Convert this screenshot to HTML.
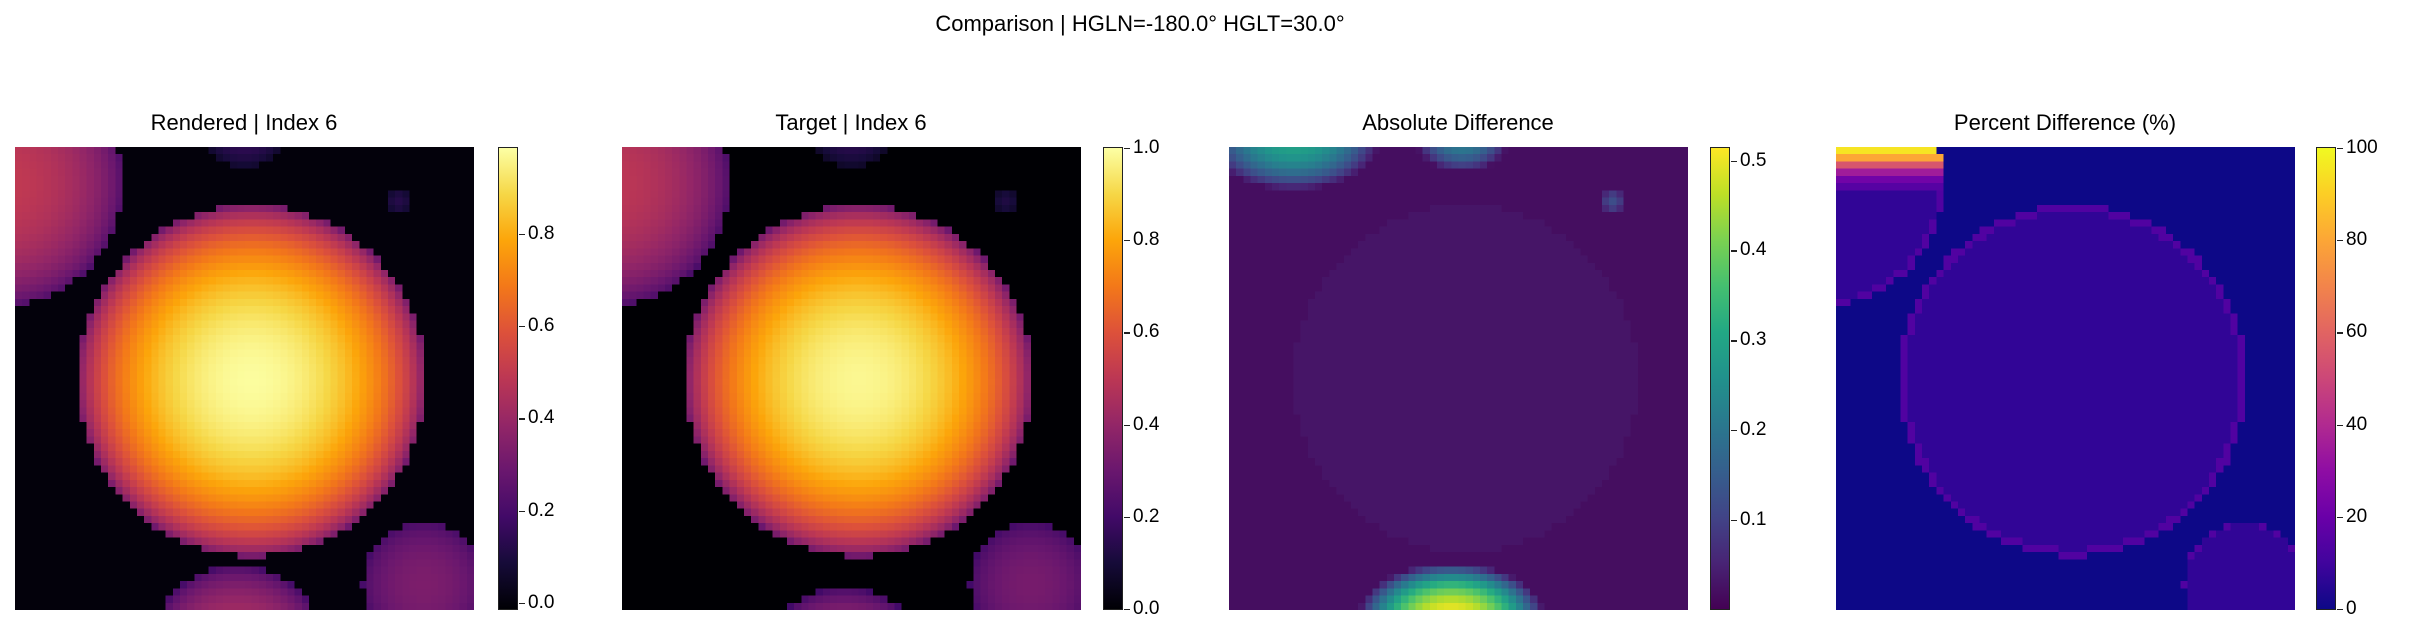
<!DOCTYPE html>
<html><head><meta charset="utf-8"><style>
body{margin:0;background:#fff;width:2409px;height:638px;position:relative;overflow:hidden;font-family:"Liberation Sans","DejaVu Sans",sans-serif;color:#000}
.t{position:absolute;font-size:22px;white-space:nowrap;transform:translateX(-50%)}
canvas.img{position:absolute;top:147px;width:459px;height:463px;image-rendering:pixelated}
.cb{position:absolute;top:147px;width:18px;height:461px;border:1.3px solid #222}
.tk{position:absolute;height:1.3px;width:6px;background:#222}
.tl{position:absolute;font-size:19px;transform:translateY(-50%)}
</style></head><body>
<div class="t" style="left:1140px;top:11px">Comparison | HGLN=-180.0° HGLT=30.0°</div>
<div id="root"></div>
<script>
// Disk model (grid units, 64x64): cx, cy, radius, peak, edge value
const diskCx=[33,-2,57,31,32,53.5];
const diskCy=[32.3,5,60.5,70.5,-3,7.5];
const diskR=[24.3,17,8.5,12.5,6,1.6];
const diskPeak=[0.98,0.5,0.33,0.47,0.16,0.12];
const diskEdge=[0.3,0.22,0.2,0.2,0.05,0.06];
// Absolute-difference features: cx, cy, rx, ry, peak
const absCx=[9,32.5,53.5,31,33];
const absCy=[-1,-1,7.5,65,32];
const absRx=[12,6.5,1.8,13,24];
const absRy=[7,4.5,1.8,7.5,24];
const absPeak=[0.3,0.22,0.12,0.51,0.01];
// Percent features
const pctInside=7;
const pctEdgeHigh=[95,80,55,35,22,15];
// Colorbar ranges and ticks
const cbMin=[-0.013,0,0.001,0];
const cbMax=[0.986,1,0.514,100];
const cbTicks=[[0,0.2,0.4,0.6,0.8],[0,0.2,0.4,0.6,0.8,1.0],[0.1,0.2,0.3,0.4,0.5],[0,20,40,60,80,100]];
const cbLabels=[["0.0","0.2","0.4","0.6","0.8"],["0.0","0.2","0.4","0.6","0.8","1.0"],["0.1","0.2","0.3","0.4","0.5"],["0","20","40","60","80","100"]];
const titles=["Rendered | Index 6","Target | Index 6","Absolute Difference","Percent Difference (%)"];
const INF=["#000004","#160b39","#420a68","#6a176e","#932667","#bc3754","#dd513a","#f37819","#fca50a","#f6d746","#fcffa4"];
const VIR=["#440154","#482475","#414487","#355f8d","#2a788e","#21918c","#22a884","#44bf70","#7ad151","#bddf26","#fde725"];
const PLA=["#0d0887","#41049d","#6a00a8","#8f0da4","#b12a90","#cc4778","#e16462","#f2844b","#fca636","#fcce25","#f0f921"];
const maps=[INF,INF,VIR,PLA];
const imgLeft=[15,622,1229,1836], cbLeft=[498,1103,1710,2316];
const N=64;
function hex(c){return [1,3,5].map(i=>parseInt(c.substr(i,2),16));}
function cmap(st,t){t=Math.max(0,Math.min(1,t));const f=t*(st.length-1),i=Math.min(st.length-2,Math.floor(f)),u=f-i;const a=hex(st[i]),b=hex(st[i+1]);return a.map((v,k)=>Math.round(v+(b[k]-v)*u));}
function intensity(x,y,shift){let v=0;for(let k=0;k<diskCx.length;k++){const d=Math.hypot(x-diskCx[k],y-diskCy[k]-(k===3?shift:0))/diskR[k];if(d<=1){const val=diskEdge[k]+(diskPeak[k]-diskEdge[k])*Math.pow(1-d*d,0.7);v=Math.max(v,val);}}return v;}
function absDiff(x,y){let v=0.02;for(let k=0;k<absCx.length;k++){const d=Math.hypot((x-absCx[k])/absRx[k],(y-absCy[k])/absRy[k]);if(d<=1){v=Math.max(v,k===4?0.02+absPeak[k]:0.02+(absPeak[k]-0.02)*(1-d*d));}}return v;}
function pct(x,y){for(let k=0;k<3;k++){const d=Math.hypot(x-diskCx[k],y-diskCy[k])/diskR[k];if(d<=1){if(k===1&&y<6)return pctEdgeHigh[Math.floor(y)];if(d>0.96)return 14;return pctInside;}}return 0;}
const root=document.getElementById('root');
for(let p=0;p<4;p++){
  const c=document.createElement('canvas');c.width=N;c.height=N;c.className='img';c.style.left=imgLeft[p]+'px';
  
  
  const ctx=c.getContext('2d');const im=ctx.createImageData(N,N);
  for(let y=0;y<N;y++)for(let x=0;x<N;x++){
    const cx=x+0.5,cy=y+0.5;let v;
    if(p===0)v=intensity(cx,cy,0);else if(p===1)v=intensity(cx,cy,3);else if(p===2)v=absDiff(cx,cy);else v=pct(cx,cy);
    const col=cmap(maps[p],(v-cbMin[p])/(cbMax[p]-cbMin[p]));const o=(y*N+x)*4;
    im.data[o]=col[0];im.data[o+1]=col[1];im.data[o+2]=col[2];im.data[o+3]=255;}
  ctx.putImageData(im,0,0);root.appendChild(c);
  const t=document.createElement('div');t.className='t';t.textContent=titles[p];t.style.left=(imgLeft[p]+229)+'px';t.style.top='110px';
  
  
  root.appendChild(t);
  const cb=document.createElement('div');cb.className='cb';cb.style.left=cbLeft[p]+'px';
  cb.style.background='linear-gradient(to top,'+maps[p].join(',')+')';
  
  
  root.appendChild(cb);
  cbTicks[p].forEach((tv,i)=>{
    const y=147+461*(1-(tv-cbMin[p])/(cbMax[p]-cbMin[p]))+1;
    const tk=document.createElement('div');tk.className='tk';tk.style.left=(cbLeft[p]+21)+'px';tk.style.top=y+'px';
    
    
    root.appendChild(tk);
    const tl=document.createElement('div');tl.className='tl';tl.textContent=cbLabels[p][i];tl.style.left=(cbLeft[p]+30)+'px';tl.style.top=y+'px';
    
    
    root.appendChild(tl);
  });
}
</script>
</body></html>
